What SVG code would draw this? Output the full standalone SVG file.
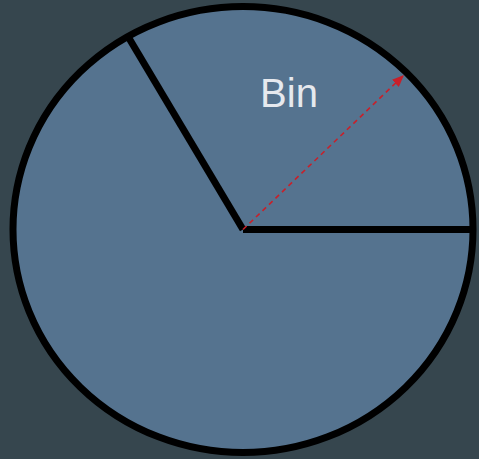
<svg xmlns="http://www.w3.org/2000/svg" width="479" height="459" viewBox="0 0 479 459">
  <style>
    .edge { stroke: #000; stroke-width: 7; fill: none; }
    .lbl { font-family: "Liberation Sans", Arial, sans-serif; font-size: 40px; fill: #e6e9ee; }
  </style>
  <defs>
    <marker id="ah" viewBox="0 0 12 10" refX="12" refY="5" markerWidth="12" markerHeight="10" markerUnits="userSpaceOnUse" orient="auto">
      <path d="M0,0 L12,5 L0,10 Z" fill="#c8202a"/>
    </marker>
  </defs>
  <rect width="479" height="459" fill="#36464e"/>
  <g id="pie">
    <ellipse cx="243" cy="229.5" rx="230" ry="223" fill="#55738f" stroke="#000" stroke-width="7"/>
  </g>
  <g id="connectors">
    <line class="edge" x1="243" y1="229.5" x2="473" y2="229.5" stroke-linecap="butt"/>
    <line class="edge" x1="243" y1="229.5" x2="128" y2="36.5"/>
    <line x1="243" y1="229.5" x2="404" y2="75" stroke="#c8202a" stroke-width="1.6" stroke-dasharray="5,4" marker-end="url(#ah)"/>
  </g>
  <g id="label">
    <text class="lbl" x="289" y="107" text-anchor="middle">Bin</text>
  </g>
</svg>
